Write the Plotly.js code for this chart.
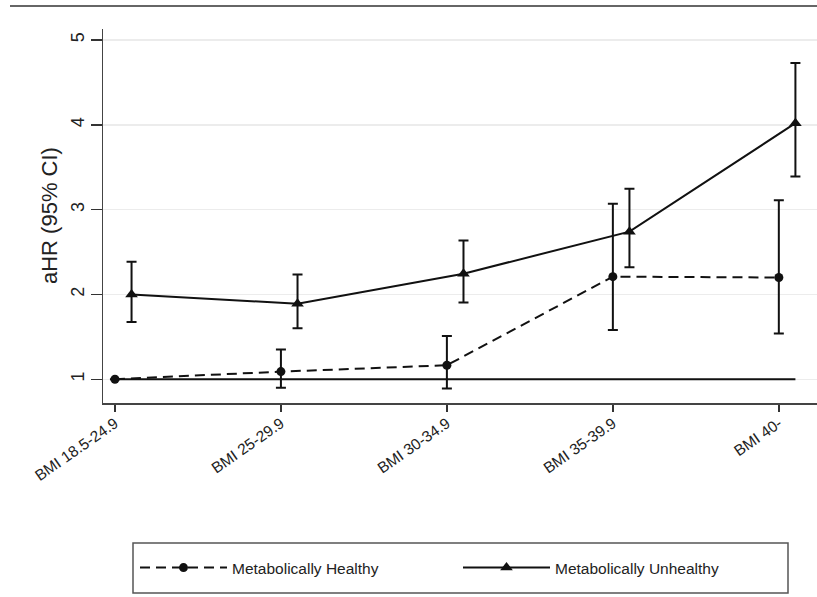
<!DOCTYPE html>
<html>
<head>
<meta charset="utf-8">
<script src="https://cdn.plot.ly/plotly-3.0.1.min.js"></script>
<style>html,body{margin:0;padding:0;background:#fff;}#chart{width:817px;height:597px;}</style>
</head>
<body>
<div id="chart"></div>
<script>
var categories = ["BMI 18.5-24.9", "BMI 25-29.9", "BMI 30-34.9", "BMI 35-39.9", "BMI 40-"];
var healthyHR = [1.0, 1.09, 1.165, 2.21, 2.20];
var healthyLow = [1.0, 0.90, 0.89, 1.58, 1.54];
var healthyHigh = [1.0, 1.35, 1.51, 3.07, 3.11];
var unhealthyHR = [2.0, 1.89, 2.245, 2.74, 4.02];
var unhealthyLow = [1.675, 1.60, 1.905, 2.32, 3.39];
var unhealthyHigh = [2.385, 2.235, 2.637, 3.245, 4.73];
var yTicks = [1, 2, 3, 4, 5];
var offset = 0.1;

var idx = categories.map(function(c, i){ return i; });

// pixel helpers for paper coords (plot area: x 103..817, y 29..403)
var PL = 103, PW = 714, PT = 29, PH = 374;
function px(x){ return (x - PL) / PW; }
function py(y){ return 1 - (y - PT) / PH; }

var traces = [
  {
    x: [0, categories.length - 1 + offset], y: [1, 1],
    mode: 'lines', line: {color: '#111', width: 2}, showlegend: false, hoverinfo: 'skip'
  },
  {
    x: idx, y: healthyHR, name: 'Metabolically Healthy',
    mode: 'lines+markers',
    line: {color: '#111', width: 2, dash: '10px,6px'},
    marker: {symbol: 'circle', size: 9, color: '#111'},
    error_y: {
      type: 'data', symmetric: false,
      array: healthyHigh.map(function(v, i){ return v - healthyHR[i]; }),
      arrayminus: healthyHR.map(function(v, i){ return v - healthyLow[i]; }),
      color: '#111', thickness: 2, width: 5
    }
  },
  {
    x: idx.map(function(i){ return i + offset; }), y: unhealthyHR, name: 'Metabolically Unhealthy',
    mode: 'lines+markers',
    line: {color: '#111', width: 2},
    marker: {symbol: 'triangle-up', size: 11, color: '#111'},
    error_y: {
      type: 'data', symmetric: false,
      array: unhealthyHigh.map(function(v, i){ return v - unhealthyHR[i]; }),
      arrayminus: unhealthyHR.map(function(v, i){ return v - unhealthyLow[i]; }),
      color: '#111', thickness: 2, width: 5
    }
  }
];

var layout = {
  width: 817, height: 597,
  paper_bgcolor: '#ffffff', plot_bgcolor: '#ffffff',
  margin: {l: PL, r: 0, t: PT, b: 597 - PT - PH},
  font: {family: 'Liberation Sans, Arial, sans-serif', color: '#222'},
  showlegend: true,
  xaxis: {
    range: [-0.072, 4.23], tickmode: 'array', tickvals: idx, ticktext: categories,
    tickangle: -35, ticks: 'outside', ticklen: 7, tickwidth: 1.5, tickcolor: '#333',
    ticklabelstandoff: -3,
    showgrid: false, zeroline: false, showline: true, linecolor: '#444', linewidth: 1.5,
    tickfont: {size: 15.5, color: '#222'}
  },
  yaxis: {
    range: [0.72, 5.13], tickmode: 'array', tickvals: yTicks, ticktext: yTicks.map(String), tickangle: -90,
    ticks: 'outside', ticklen: 11, tickwidth: 1.5, tickcolor: '#333',
    ticklabelstandoff: -1,
    showgrid: true, gridcolor: '#ececec', gridwidth: 1.5, zeroline: false,
    showline: true, linecolor: '#444', linewidth: 1.5,
    tickfont: {size: 18, color: '#222'}
  },
  legend: {
    orientation: 'h', x: px(135), y: py(568),
    xanchor: 'left', yanchor: 'middle',
    borderwidth: 0, bgcolor: 'rgba(0,0,0,0)',
    font: {size: 15.5, color: '#222'}, entrywidth: 221, itemwidth: 87
  },
  annotations: [
    {text: 'aHR (95% CI)', textangle: -90, xref: 'paper', yref: 'paper',
     x: px(49), y: py(216), xanchor: 'center', yanchor: 'middle', showarrow: false,
     font: {size: 22, color: '#222'}}
  ],
  shapes: [
    {type: 'line', xref: 'paper', yref: 'paper', x0: px(10), x1: 1, y0: py(6), y1: py(6),
     line: {color: '#666', width: 2}},
    {type: 'rect', xref: 'paper', yref: 'paper', x0: px(133), x1: px(788), y0: py(543), y1: py(593),
     line: {color: '#555', width: 1.5}}
  ]
};

Plotly.newPlot('chart', traces, layout, {displayModeBar: false, staticPlot: true});
</script>
</body>
</html>
